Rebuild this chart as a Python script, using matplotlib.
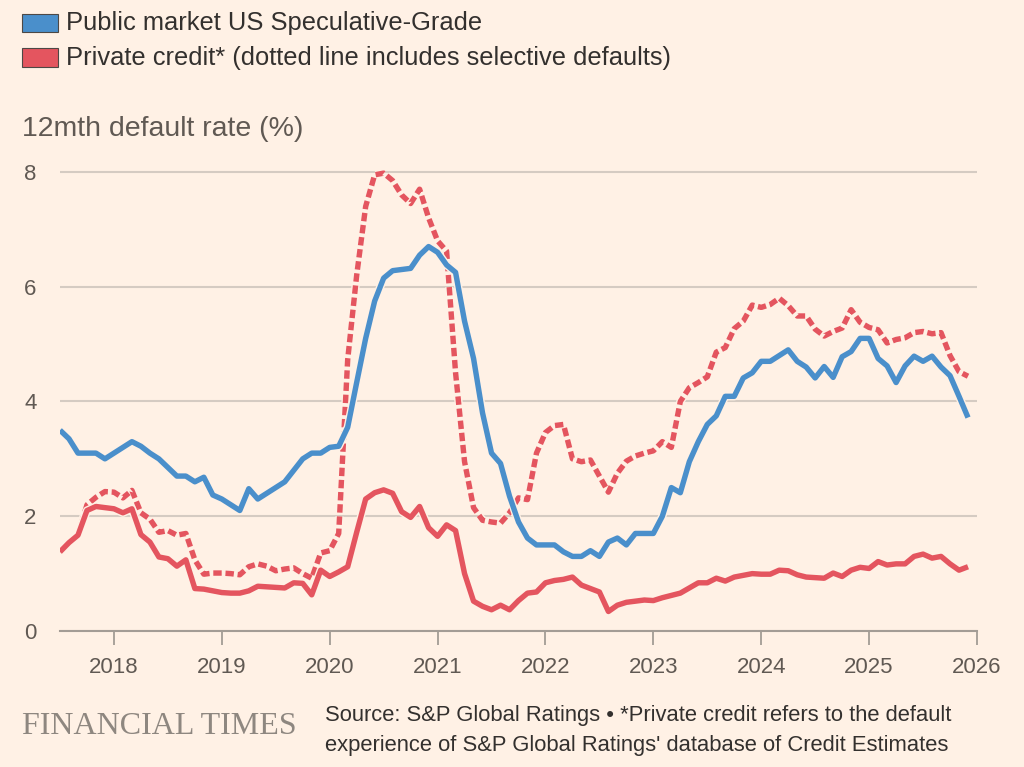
import matplotlib
matplotlib.use("Agg")
import matplotlib.pyplot as plt
import matplotlib.patheffects as pe
from matplotlib.patches import Rectangle
import pandas as pd

# monthly 12m default rates, Jul 2017 - Dec 2025
months = pd.date_range("2017-07-01", periods=102, freq="MS")

public = [3.5, 3.35, 3.1, 3.1, 3.1, 3.0, 3.1, 3.2, 3.3, 3.22, 3.1, 3.0,
          2.85, 2.7, 2.7, 2.6, 2.68, 2.37, 2.3, 2.2, 2.1, 2.48, 2.3, 2.4,
          2.5, 2.6, 2.8, 3.0, 3.1, 3.1, 3.2, 3.22, 3.55, 4.33, 5.1, 5.75,
          6.15, 6.28, 6.3, 6.32, 6.55, 6.7, 6.6, 6.38, 6.25, 5.4, 4.75, 3.8,
          3.1, 2.92, 2.35, 1.9, 1.62, 1.5, 1.5, 1.5, 1.38, 1.3, 1.3, 1.4,
          1.3, 1.55, 1.62, 1.5, 1.7, 1.7, 1.7, 2.0, 2.5, 2.41, 2.95, 3.3,
          3.6, 3.75, 4.09, 4.09, 4.41, 4.5, 4.7, 4.7, 4.8, 4.9, 4.7, 4.6,
          4.41, 4.61, 4.42, 4.78, 4.87, 5.1, 5.1, 4.75, 4.62, 4.33, 4.62, 4.79,
          4.7, 4.79, 4.6, 4.45, 4.09, 3.72]

private = [1.38, 1.54, 1.67, 2.1, 2.17, 2.15, 2.13, 2.06, 2.13, 1.68, 1.55, 1.29,
           1.26, 1.13, 1.24, 0.74, 0.73, 0.7, 0.67, 0.66, 0.66, 0.7, 0.78, 0.77,
           0.76, 0.75, 0.84, 0.83, 0.63, 1.06, 0.95, 1.03, 1.12, 1.72, 2.3, 2.41,
           2.46, 2.4, 2.08, 1.98, 2.17, 1.8, 1.65, 1.85, 1.75, 1.0, 0.52, 0.43,
           0.37, 0.45, 0.37, 0.53, 0.66, 0.68, 0.84, 0.88, 0.9, 0.94, 0.8, 0.74,
           0.68, 0.34, 0.45, 0.5, 0.52, 0.54, 0.53, 0.58, 0.62, 0.66, 0.75, 0.84,
           0.84, 0.92, 0.87, 0.94, 0.97, 1.0, 0.99, 0.99, 1.06, 1.05, 0.98, 0.94,
           0.93, 0.92, 1.01, 0.95, 1.06, 1.11, 1.09, 1.21, 1.15, 1.17, 1.17, 1.3,
           1.34, 1.27, 1.3, 1.17, 1.06, 1.12]

# incl. selective defaults (dotted)
private_sd = [1.38, 1.54, 1.67, 2.2, 2.33, 2.43, 2.42, 2.32, 2.45, 2.06, 1.95, 1.72,
              1.75, 1.67, 1.7, 1.24, 0.99, 1.01, 1.01, 1.0, 0.98, 1.12, 1.17, 1.13,
              1.05, 1.08, 1.1, 1.0, 0.92, 1.36, 1.4, 1.7, 4.73, 6.2, 7.4, 7.95,
              7.98, 7.85, 7.6, 7.45, 7.7, 7.2, 6.8, 6.62, 4.5, 2.95, 2.15, 1.93,
              1.9, 1.88, 2.06, 2.32, 2.29, 3.1, 3.46, 3.58, 3.6, 3.0, 2.95, 2.98,
              2.7, 2.42, 2.75, 2.96, 3.05, 3.1, 3.14, 3.3, 3.2, 4.0, 4.24, 4.33,
              4.43, 4.86, 4.94, 5.27, 5.4, 5.68, 5.64, 5.69, 5.8, 5.67, 5.49, 5.49,
              5.26, 5.14, 5.22, 5.28, 5.6, 5.38, 5.29, 5.25, 5.02, 5.08, 5.11, 5.2,
              5.22, 5.18, 5.2, 4.8, 4.52, 4.44]

year_ticks = [2018, 2019, 2020, 2021, 2022, 2023, 2024, 2025, 2026]
y_ticks = [0, 2, 4, 6, 8]

legend_labels = ["Public market US Speculative-Grade",
                 "Private credit* (dotted line includes selective defaults)"]

BG = "#FFF1E5"
BLUE = "#4A8FCB"
RED = "#E4555F"
GRID = "#D5CBC2"
AXIS = "#A39C95"
LABEL = "#605953"
TEXT = "#33302E"

plt.rcParams["font.family"] = ["Liberation Sans", "DejaVu Sans"]

W, H = 1024, 767


def fx(px):
    return px / W


def fy(py):
    return 1 - py / H


x = months.year + (months.month - 1) / 12

fig = plt.figure(figsize=(10.24, 7.67), dpi=100, facecolor=BG)
ax = fig.add_axes([fx(60), fy(631), fx(977) - fx(60), fy(160.5) - fy(631)])
ax.set_facecolor(BG)

LW = 3.9
halo = [pe.Stroke(linewidth=LW + 2, foreground=BG), pe.Normal()]
ax.plot(x, private_sd, color=RED, lw=LW, dashes=(1.55, 0.7), dash_capstyle="butt",
        path_effects=halo, zorder=3)
ax.plot(x, private, color=RED, lw=LW, solid_capstyle="butt", solid_joinstyle="round",
        path_effects=halo, zorder=4)
ax.plot(x, public, color=BLUE, lw=LW, solid_capstyle="butt", solid_joinstyle="round",
        path_effects=halo, zorder=5)

ax.set_xlim(2017.5, 2026.0)
ax.set_ylim(0, 8.2)
ax.set_yticks(y_ticks)
ax.set_yticklabels([str(v) for v in y_ticks])
ax.set_xticks(year_ticks)
ax.set_xticklabels([str(v) for v in year_ticks])
ax.yaxis.grid(True, color=GRID, lw=1.5)
ax.set_axisbelow(True)
for s in ["top", "right", "left"]:
    ax.spines[s].set_visible(False)
ax.spines["bottom"].set_color(AXIS)
ax.spines["bottom"].set_linewidth(1.5)
ax.spines["bottom"].set_zorder(2)
ax.tick_params(axis="y", length=0, pad=17, labelsize=16, labelcolor=LABEL)
ax.tick_params(axis="x", length=10, width=1.3, color=AXIS, pad=8.5, labelsize=16, labelcolor=LABEL)

# legend
for i, (lab, col) in enumerate(zip(legend_labels, [BLUE, RED])):
    yc = 23 + i * 34.5
    fig.add_artist(Rectangle((fx(22), fy(yc + 9)), fx(58) - fx(22), fy(yc - 9) - fy(yc + 9),
                             transform=fig.transFigure, facecolor=col,
                             edgecolor="#4d4845", lw=0.8))
    fig.text(fx(66), fy(yc), lab, fontsize=18.4, color=TEXT, va="center", ha="left")

fig.text(fx(22), fy(129), "12mth default rate (%)", fontsize=20.5, color=LABEL,
         va="center", ha="left")

fig.text(fx(22), fy(726), "FINANCIAL TIMES", fontsize=23, color="#8E8780",
         family=["Liberation Serif", "DejaVu Serif"], va="center", ha="left")
fig.text(fx(325), fy(716), "Source: S&P Global Ratings \u2022 *Private credit refers to the default",
         fontsize=15.8, color=TEXT, va="center", ha="left")
fig.text(fx(325), fy(745), "experience of S&P Global Ratings' database of Credit Estimates",
         fontsize=15.8, color=TEXT, va="center", ha="left")

fig.savefig("out.png", dpi=100, facecolor=BG)
